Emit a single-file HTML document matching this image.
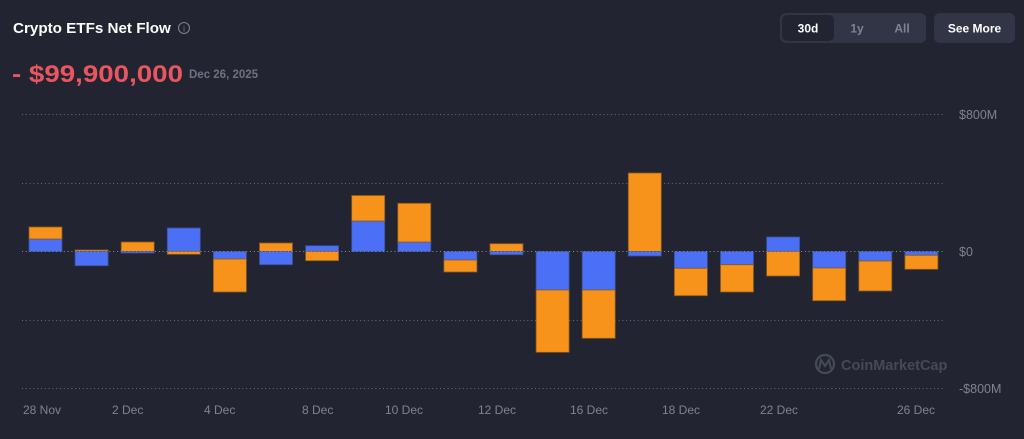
<!DOCTYPE html>
<html><head><meta charset="utf-8"><style>
html,body{margin:0;padding:0;background:#222531;width:1024px;height:439px;overflow:hidden;font-family:"Liberation Sans",sans-serif;}
</style></head><body>
<svg width="1024" height="439" xmlns="http://www.w3.org/2000/svg" style="position:absolute;left:0;top:0">
<rect width="1024" height="439" fill="#222531"/>
<text x="13" y="33" fill="#ffffff" font-size="15.2" font-weight="bold" font-family="Liberation Sans, sans-serif">Crypto ETFs Net Flow</text>
<circle cx="184" cy="28" r="5.5" fill="none" stroke="#7b7f8e" stroke-width="1.1"/>
<text x="184" y="31.5" fill="#7b7f8e" font-size="8" text-anchor="middle" font-family="Liberation Sans, sans-serif">i</text>
<text x="12" y="82" fill="#ea5660" font-size="24" font-weight="bold" font-family="Liberation Sans, sans-serif" textLength="171" lengthAdjust="spacingAndGlyphs">- $99,900,000</text>
<text x="189" y="78" fill="#6e7280" font-size="11.5" font-weight="bold" font-family="Liberation Sans, sans-serif">Dec 26, 2025</text>
<rect x="780" y="13" width="146" height="30" rx="6" fill="#323546"/>
<rect x="782" y="15" width="52" height="26" rx="5" fill="#222531"/>
<text x="808" y="32.5" fill="#fff" font-size="12" font-weight="bold" text-anchor="middle" font-family="Liberation Sans, sans-serif">30d</text>
<text x="857" y="32.5" fill="#80838f" font-size="12" font-weight="bold" text-anchor="middle" font-family="Liberation Sans, sans-serif">1y</text>
<text x="902" y="32.5" fill="#80838f" font-size="12" font-weight="bold" text-anchor="middle" font-family="Liberation Sans, sans-serif">All</text>
<rect x="934" y="13" width="81" height="30" rx="6" fill="#323546"/>
<text x="974.5" y="32.5" fill="#fff" font-size="12" font-weight="bold" text-anchor="middle" font-family="Liberation Sans, sans-serif">See More</text>
<g stroke="#6a6d7a" stroke-width="1" stroke-dasharray="1,2.8">
<line x1="22" y1="114.5" x2="945" y2="114.5"/>
<line x1="22" y1="183.5" x2="945" y2="183.5"/>
<line x1="22" y1="320.5" x2="945" y2="320.5"/>
<line x1="22" y1="388.5" x2="945" y2="388.5"/>
</g>
<g font-size="12.5" fill="#80838f" font-family="Liberation Sans, sans-serif">
<text x="959" y="119">$800M</text>
<text x="959" y="256">$0</text>
<text x="959" y="393">-$800M</text>
</g>
<g id="bars" stroke-width="1"></g>
<line x1="22" y1="251.5" x2="945" y2="251.5" stroke="#8a8d99" stroke-width="1" stroke-dasharray="1,2.8"/>
<g font-size="12" fill="#80838f" font-family="Liberation Sans, sans-serif">
<text x="23" y="414">28 Nov</text>
<text x="112" y="414">2 Dec</text>
<text x="204" y="414">4 Dec</text>
<text x="302" y="414">8 Dec</text>
<text x="385" y="414">10 Dec</text>
<text x="478" y="414">12 Dec</text>
<text x="570" y="414">16 Dec</text>
<text x="662" y="414">18 Dec</text>
<text x="760" y="414">22 Dec</text>
<text x="897" y="414">26 Dec</text>
</g>
<g opacity="0.9">
<circle cx="825" cy="364" r="9" fill="none" stroke="#4a4d5b" stroke-width="2.2"/>
<path d="M819 369 L821 360 L825 366 L829 360 L831 369" fill="none" stroke="#4a4d5b" stroke-width="2"/>
<text x="841" y="370" fill="#4a4d5b" font-size="14.5" font-weight="bold" font-family="Liberation Sans, sans-serif">CoinMarketCap</text>
</g>
</svg>
<script>
var Z=251.5,B="#4b70f5",O="#f7931a";
var d=[
[[239,Z,B],[227,239,O]],
[[250,Z,O],[Z,265.7,B]],
[[242,Z,O],[Z,253,B]],
[[228,Z,B],[Z,254.3,O]],
[[Z,259,B],[259,292,O]],
[[243,Z,O],[Z,264.7,B]],
[[245.7,Z,B],[Z,260.7,O]],
[[221,Z,B],[195.5,221,O]],
[[242,Z,B],[203.3,242,O]],
[[Z,260,B],[260,272,O]],
[[243.7,Z,O],[Z,254.7,B]],
[[Z,290,B],[290,352.3,O]],
[[Z,290,B],[290,338.3,O]],
[[173,Z,O],[Z,256,B]],
[[Z,268.3,B],[268.3,295.7,O]],
[[Z,264.7,B],[264.7,292,O]],
[[237,Z,B],[Z,276,O]],
[[Z,268,B],[268,300.7,O]],
[[Z,261,B],[261,291,O]],
[[Z,255.3,B],[255.3,269.3,O]]];
var g=document.getElementById("bars"),s="";
d.forEach(function(b,i){var x=29+46.1*i;b.forEach(function(p){var h=p[1]-p[0];var st=p[2]==O?"#8a5a1e":"#3a4f9a";s+='<rect x="'+x.toFixed(1)+'" y="'+p[0]+'" width="33" height="'+h.toFixed(1)+'" fill="'+p[2]+'" stroke="'+st+'" stroke-width="0.8"/>';});});
g.innerHTML=s;
</script>
</body></html>
